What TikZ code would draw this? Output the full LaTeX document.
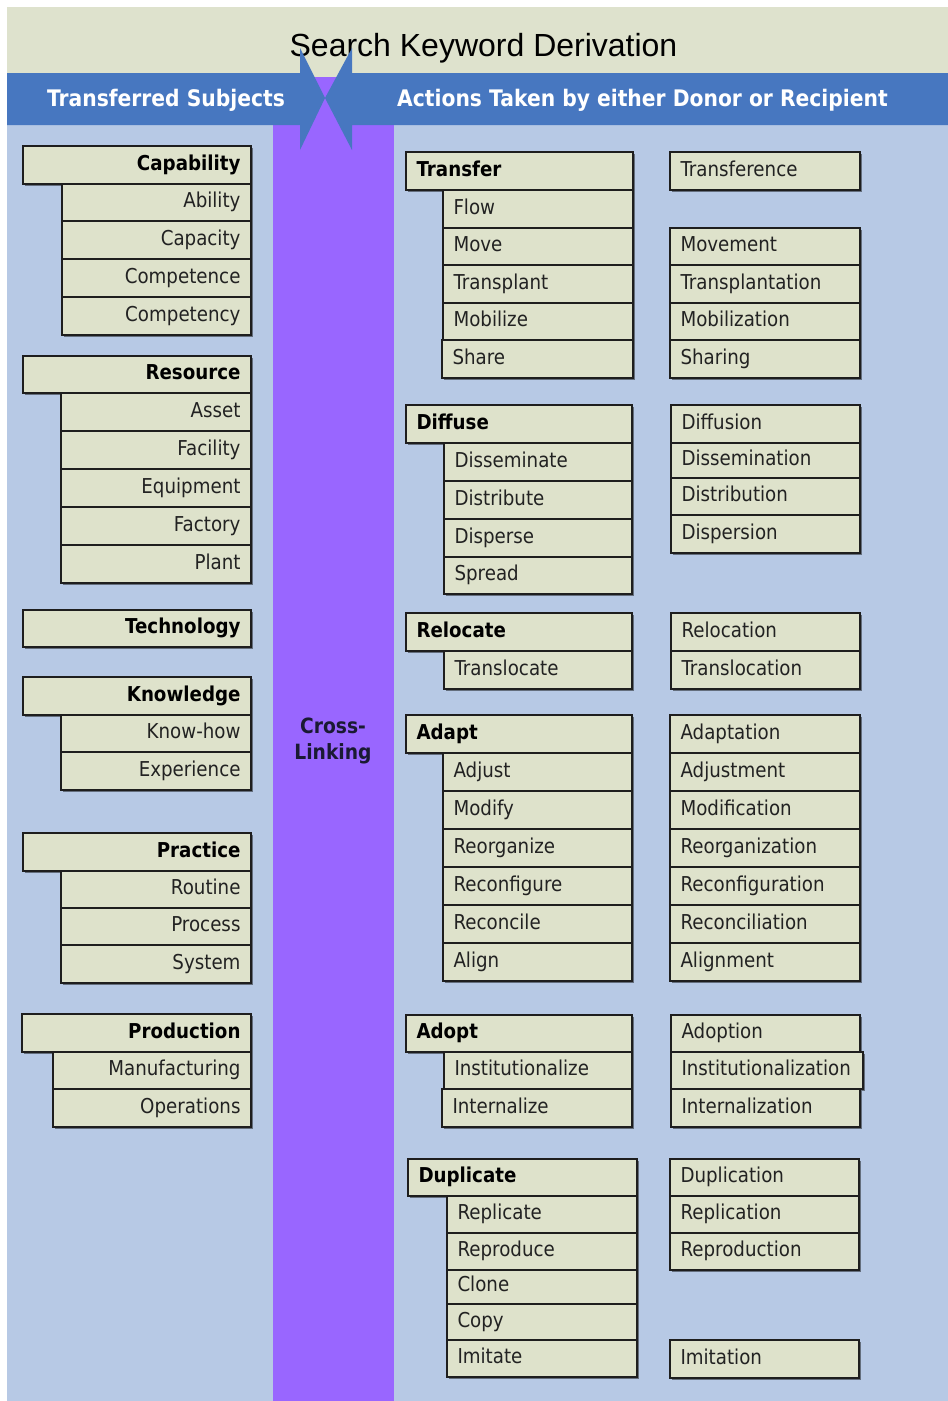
\documentclass[tikz,border=0pt]{standalone}
\usepackage{fontspec}
\setmainfont{DejaVu Sans}[FakeStretch=0.89]
\newfontfamily\titlefont{Liberation Sans}
\usetikzlibrary{shadows}

\definecolor{bandbeige}{HTML}{DEE2CD}
\definecolor{hdrblue}{HTML}{4777C0}
\definecolor{bodyblue}{HTML}{B7C9E5}
\definecolor{linkpurple}{HTML}{9966FF}
\definecolor{boxfill}{HTML}{DEE2CB}
\definecolor{boxline}{HTML}{1E1E1E}
\definecolor{wordtext}{HTML}{222222}
\definecolor{linktext}{HTML}{1A1A33}

\tikzset{
  kbox/.style={rectangle, draw=boxline, fill=boxfill, line width=1.3pt,
    inner xsep=10.5pt, inner ysep=0pt, outer sep=0pt,
    font=\fontsize{20.5}{24}\selectfont, text=wordtext,
    drop shadow={shadow xshift=1.6pt, shadow yshift=-1.6pt, opacity=0.45, fill=black}},
  subj/.style={align=right},
  act/.style={align=left},
  head/.style={font=\fontsize{20.5}{24}\selectfont\bfseries, text=black},
  bandtext/.style={text=white, font=\fontsize{22.8}{26}\selectfont\bfseries, anchor=base},
}

% one keyword box: name, style, left, top, width, height, label
\newcommand\kw[7]{%
  \pgfmathsetmacro\kwtw{#5-21}%
  \pgfmathsetmacro\kwth{0.645*#6}%
  \pgfmathsetmacro\kwtd{#6-\kwth}%
  \node[kbox,#2,text width=\kwtw pt,text height=\kwth pt,text depth=\kwtd pt,
        anchor=north west] (#1) at (#3,#4) {#7};}

\begin{document}
\begin{tikzpicture}[x=1pt,y=-1pt]
\useasboundingbox (0,0) rectangle (948,1401);
\fill[white] (0,0) rectangle (948,1401);

% background bands and the cross-linking column
\fill[bodyblue] (7,125) rectangle (948,1401);
\fill[bandbeige] (7,7) rectangle (948,77);
\fill[linkpurple] (273,77) rectangle (394,1401);

\node[font=\titlefont\fontsize{32}{36}\selectfont, text=black, anchor=base]
  (title) at (483.5,56) {Search Keyword Derivation};

% header arrows meeting at the column
\fill[hdrblue] (7,73) -- (300,73) -- (300,48) -- (325,98) -- (300,150)
  -- (300,125) -- (7,125) -- cycle;
\fill[hdrblue] (948,73) -- (352,73) -- (352,48) -- (325,98) -- (352,150)
  -- (352,125) -- (948,125) -- cycle;

\node[bandtext] (subjhdr) at (166,106) {Transferred Subjects};
\node[bandtext] (acthdr) at (642.5,106) {Actions Taken by either Donor or Recipient};

\node[align=center, text=linktext, font=\fontsize{21}{26}\selectfont\bfseries]
  (crosslink) at (333,741) {Cross-\\Linking};

% ---------- transferred subjects ----------
\kw{capability}{subj,head}{23}{146}{228}{38}{Capability}
\kw{ability}{subj}{62}{184}{189}{37}{Ability}
\kw{capacity}{subj}{62}{221}{189}{38}{Capacity}
\kw{competence}{subj}{62}{259}{189}{38}{Competence}
\kw{competency}{subj}{62}{297}{189}{38}{Competency}

\kw{resource}{subj,head}{23}{356}{228}{37}{Resource}
\kw{asset}{subj}{61}{393}{190}{38}{Asset}
\kw{facility}{subj}{61}{431}{190}{38}{Facility}
\kw{equipment}{subj}{61}{469}{190}{38}{Equipment}
\kw{factory}{subj}{61}{507}{190}{38}{Factory}
\kw{plant}{subj}{61}{545}{190}{38}{Plant}

\kw{technology}{subj,head}{23}{610}{228}{37}{Technology}

\kw{knowledge}{subj,head}{23}{677}{228}{38}{Knowledge}
\kw{knowhow}{subj}{61}{715}{190}{37}{Know-how}
\kw{experience}{subj}{61}{752}{190}{38}{Experience}

\kw{practice}{subj,head}{23}{833}{228}{38}{Practice}
\kw{routine}{subj}{61}{871}{190}{37}{Routine}
\kw{process}{subj}{61}{908}{190}{37}{Process}
\kw{system}{subj}{61}{945}{190}{38}{System}

\kw{production}{subj,head}{22}{1014}{229}{38}{Production}
\kw{manufacturing}{subj}{53}{1052}{198}{37}{Manufacturing}
\kw{operations}{subj}{53}{1089}{198}{38}{Operations}

% ---------- actions: verbs ----------
\kw{transfer}{act,head}{406}{152}{227}{38}{Transfer}
\kw{flow}{act}{443}{190}{190}{38}{Flow}
\kw{move}{act}{443}{228}{190}{37}{Move}
\kw{transplant}{act}{443}{265}{190}{38}{Transplant}
\kw{mobilize}{act}{443}{303}{190}{37}{Mobilize}
\kw{share}{act}{442}{340}{191}{38}{Share}

\kw{diffuse}{act,head}{406}{405}{226}{38}{Diffuse}
\kw{disseminate}{act}{444}{443}{188}{38}{Disseminate}
\kw{distribute}{act}{444}{481}{188}{38}{Distribute}
\kw{disperse}{act}{444}{519}{188}{38}{Disperse}
\kw{spread}{act}{444}{557}{188}{37}{Spread}

\kw{relocate}{act,head}{406}{613}{226}{38}{Relocate}
\kw{translocate}{act}{444}{651}{188}{38}{Translocate}

\kw{adapt}{act,head}{406}{715}{226}{38}{Adapt}
\kw{adjust}{act}{443}{753}{189}{38}{Adjust}
\kw{modify}{act}{443}{791}{189}{38}{Modify}
\kw{reorganize}{act}{443}{829}{189}{38}{Reorganize}
\kw{reconfigure}{act}{443}{867}{189}{38}{Reconfigure}
\kw{reconcile}{act}{443}{905}{189}{38}{Reconcile}
\kw{align}{act}{443}{943}{189}{38}{Align}

\kw{adopt}{act,head}{406}{1015}{226}{37}{Adopt}
\kw{institutionalize}{act}{444}{1052}{188}{37}{Institutionalize}
\kw{internalize}{act}{442}{1089}{190}{38}{Internalize}

\kw{duplicate}{act,head}{408}{1159}{229}{37}{Duplicate}
\kw{replicate}{act}{447}{1196}{190}{37}{Replicate}
\kw{reproduce}{act}{447}{1233}{190}{37}{Reproduce}
\kw{clone}{act}{447}{1270}{190}{34}{Clone}
\kw{copy}{act}{447}{1304}{190}{36}{Copy}
\kw{imitate}{act}{447}{1340}{190}{37}{Imitate}

% ---------- actions: nouns ----------
\kw{transference}{act}{670}{152}{190}{38}{Transference}
\kw{movement}{act}{670}{228}{190}{37}{Movement}
\kw{transplantation}{act}{670}{265}{190}{38}{Transplantation}
\kw{mobilization}{act}{670}{303}{190}{37}{Mobilization}
\kw{sharing}{act}{670}{340}{190}{38}{Sharing}

\kw{diffusion}{act}{671}{405}{189}{38}{Diffusion}
\kw{dissemination}{act}{671}{443}{189}{35}{Dissemination}
\kw{distribution}{act}{671}{478}{189}{37}{Distribution}
\kw{dispersion}{act}{671}{515}{189}{38}{Dispersion}

\kw{relocation}{act}{671}{613}{189}{38}{Relocation}
\kw{translocation}{act}{671}{651}{189}{38}{Translocation}

\kw{adaptation}{act}{670}{715}{190}{38}{Adaptation}
\kw{adjustment}{act}{670}{753}{190}{38}{Adjustment}
\kw{modification}{act}{670}{791}{190}{38}{Modification}
\kw{reorganization}{act}{670}{829}{190}{38}{Reorganization}
\kw{reconfiguration}{act}{670}{867}{190}{38}{Reconfiguration}
\kw{reconciliation}{act}{670}{905}{190}{38}{Reconciliation}
\kw{alignment}{act}{670}{943}{190}{38}{Alignment}

\kw{adoption}{act}{671}{1015}{189}{37}{Adoption}
\kw{institutionalization}{act}{671}{1052}{192}{37}{Institutionalization}
\kw{internalization}{act}{671}{1089}{189}{38}{Internalization}

\kw{duplication}{act}{670}{1159}{189}{37}{Duplication}
\kw{replication}{act}{670}{1196}{189}{37}{Replication}
\kw{reproduction}{act}{670}{1233}{189}{37}{Reproduction}
\kw{imitation}{act}{670}{1340}{189}{38}{Imitation}
\end{tikzpicture}
\end{document}
